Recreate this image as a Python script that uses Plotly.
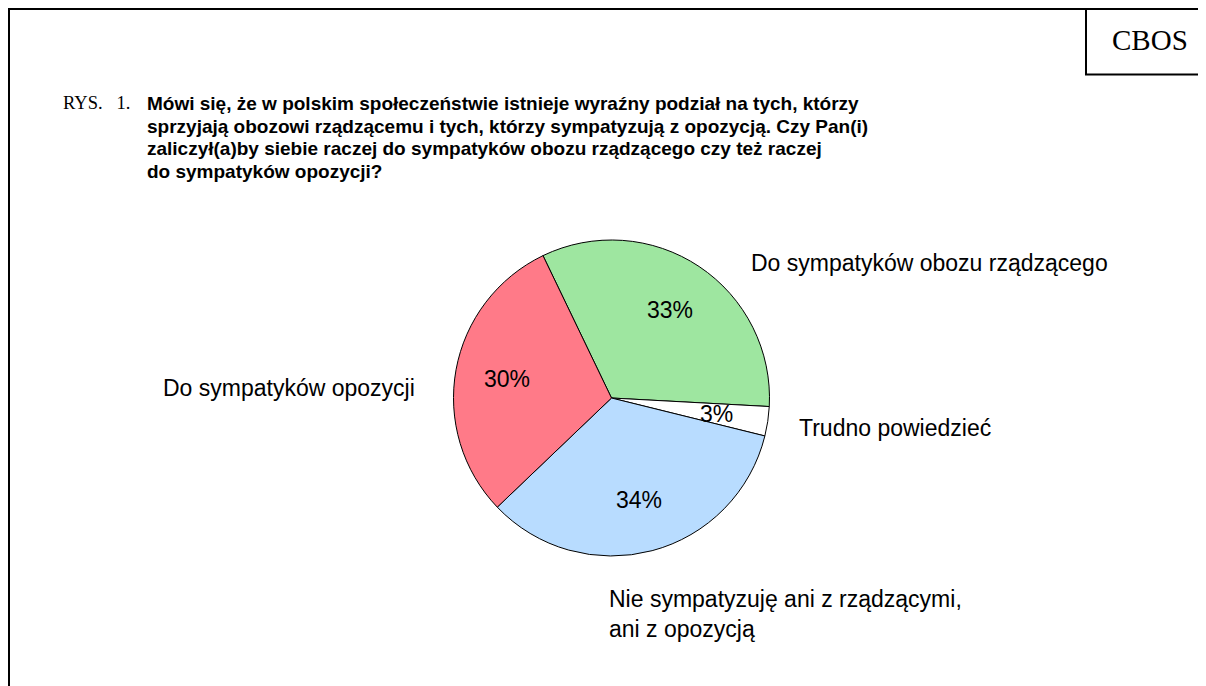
import math
import plotly.graph_objects as go

# ---- data ----
categories = [
    "Do sympatyków obozu rządzącego",
    "Trudno powiedzieć",
    "Nie sympatyzuję ani z rządzącymi,<br>ani z opozycją",
    "Do sympatyków opozycji",
]
values = [33, 3, 34, 30]
colors = ["#9ee6a0", "#ffffff", "#b8dcff", "#ff7a88"]

title_lines = [
    "Mówi się, że w polskim społeczeństwie istnieje wyraźny podział na tych, którzy",
    "sprzyjają obozowi rządzącemu i tych, którzy sympatyzują z opozycją. Czy Pan(i)",
    "zaliczył(a)by siebie raczej do sympatyków obozu rządzącego czy też raczej",
    "do sympatyków opozycji?",
]

# the page body has an 8px margin; the figure is placed at (8, 8)
OFF = 8
W, H = 1206 - OFF, 686 - OFF
def px(x):
    return (x - OFF) / W
def py(y):
    return 1 - (y - OFF) / H

# pie geometry (window pixels)
CX, CY, R = 611.5, 398.0, 158.0
ROT = -25.7

SANS = "Liberation Sans, Arial, sans-serif"
SERIF = "Liberation Serif, Times New Roman, serif"

fig = go.Figure()
fig.add_trace(go.Pie(
    labels=categories,
    values=values,
    sort=False,
    direction="clockwise",
    rotation=ROT,
    marker=dict(colors=colors, line=dict(color="#000000", width=1)),
    textinfo="none",
    hoverinfo="label+percent",
    showlegend=False,
    domain=dict(x=[px(CX - R), px(CX + R)], y=[py(CY + R), py(CY - R)]),
))

annotations = []
# percentage labels derived from values
total = sum(values)
cum = 0
for v in values:
    mid = math.radians(ROT + (cum + v / 2) / total * 360)
    cum += v
    rr = 0.67 * R
    annotations.append(dict(
        x=px(CX + rr * math.sin(mid)), y=py(CY - rr * math.cos(mid)),
        xref="paper", yref="paper", text=f"{round(v / total * 100)}%",
        showarrow=False, font=dict(family=SANS, size=23, color="#000"),
        xanchor="center", yanchor="middle",
    ))

# category labels
label_pos = [(749, 263), (797, 428), (607, 614), (161, 388)]
for txt, (lx, ly) in zip(categories, label_pos):
    annotations.append(dict(
        x=px(lx), y=py(ly), xref="paper", yref="paper", text=txt,
        showarrow=False, align="left", xanchor="left", yanchor="middle",
        font=dict(family=SANS, size=23, color="#000"),
    ))

# title
title_y = [103, 126, 148.7, 171.4]
for t, ty in zip(title_lines, title_y):
    annotations.append(dict(
        x=px(145), y=py(ty), xref="paper", yref="paper",
        text="<b>" + t + "</b>",
        showarrow=False, align="left", xanchor="left", yanchor="middle",
        font=dict(family=SANS, size=19, color="#000"),
    ))
annotations.append(dict(
    x=px(61), y=py(103), xref="paper", yref="paper", text="RYS.\u00a0\u00a0 1.",
    showarrow=False, xanchor="left", yanchor="middle",
    font=dict(family=SERIF, size=18.5, color="#000"),
))
annotations.append(dict(
    x=px(1150), y=py(40), xref="paper", yref="paper", text="CBOS",
    showarrow=False, xanchor="center", yanchor="middle",
    font=dict(family=SERIF, size=29, color="#000"),
))

line = dict(color="#000", width=2)
shapes = [
    dict(type="line", xref="paper", yref="paper", x0=px(8), x1=1, y0=py(9), y1=py(9), line=line),
    dict(type="line", xref="paper", yref="paper", x0=px(9), x1=px(9), y0=py(8), y1=0, line=line),
    dict(type="line", xref="paper", yref="paper", x0=px(1086), x1=px(1086), y0=py(9), y1=py(74.5), line=line),
    dict(type="line", xref="paper", yref="paper", x0=px(1085), x1=1, y0=py(74.5), y1=py(74.5), line=line),
]

fig.update_layout(
    width=W, height=H,
    margin=dict(l=0, r=0, t=0, b=0),
    paper_bgcolor="#ffffff", plot_bgcolor="#ffffff",
    annotations=annotations, shapes=shapes,
)

fig.write_html("out.html", post_script="document.body.style.overflow='hidden';")
